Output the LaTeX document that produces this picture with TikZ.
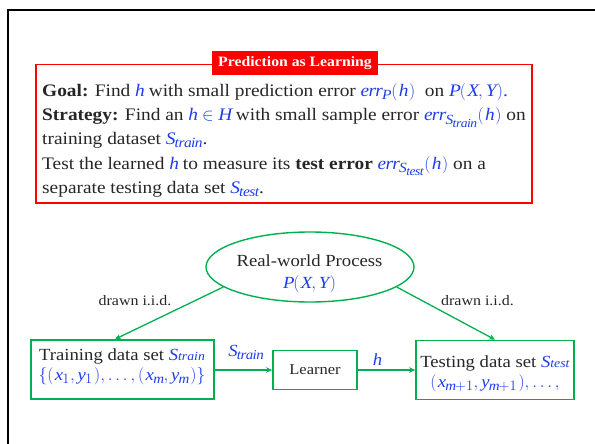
\documentclass[tikz,border=0pt]{standalone}
\usepackage{fontspec}
\setmainfont[FakeStretch=1.1]{Liberation Serif}
\usetikzlibrary{shapes.geometric,arrows.meta}
\def\defaultscriptratio{.8}
\def\defaultscriptscriptratio{.7}
\definecolor{frameRed}{RGB}{255,0,0}
\definecolor{flowGreen}{RGB}{0,176,80}
\definecolor{mathBlue}{RGB}{30,60,235}
\definecolor{bodyText}{RGB}{38,38,38}
\newcommand{\bl}[1]{\textcolor{mathBlue}{#1}}
\newcommand{\mi}[1]{\mathit{#1}}
% math parentheses with a little more room
\newcommand{\lp}{\mathopen{(}\mkern1.5mu}
\newcommand{\rp}{\mkern1.5mu\mathclose{)}}
\tikzset{
  line/.style={text=bodyText, anchor=base west, inner sep=0pt, font=\fontsize{17.6}{20}\selectfont},
  ctext/.style={text=bodyText, anchor=base, inner sep=0pt, font=\fontsize{17}{20}\selectfont},
  small/.style={text=bodyText, inner sep=0pt, font=\fontsize{15}{17}\selectfont},
  greenbox/.style={draw=flowGreen, line width=1.6pt, inner sep=0pt},
  flow/.style={draw=flowGreen, line width=1.3pt, -{Stealth[length=6pt,width=5.5pt]}},
}
\begin{document}
\begin{tikzpicture}[x=1pt,y=-1pt]
\useasboundingbox (0,0) rectangle (595,444);
% page frame (top and left edges)
\draw[line width=2.6pt, black] (7.8,450) -- (7.8,10) -- (600,10);

% red framed statement
\draw[frameRed, line width=1.4pt] (36,64.5) rectangle (532,203);
\node[fill=frameRed, text=white, font=\bfseries\fontsize{14.3}{17}\selectfont,
      minimum width=166pt, minimum height=24pt, inner sep=0pt] (title) at (295,63) {Prediction as Learning};

\node[line] (l1) at (42,96) {\textbf{Goal:} Find \bl{$\mi{h}$} with small prediction error \bl{$\mi{err}_{\mi{P}}\lp\mi{h}\rp$}\ \ on \bl{$\mi{P}\lp\mi{X},\mi{Y}\rp$.}};
\node[line] (l2) at (42,121) {\textbf{Strategy:} Find an \bl{$\mi{h}\in \mi{H}$} with small sample error \bl{$\mi{err}_{\mi{S}_{\mi{train}}}\lp\mi{h}\rp$} on};
\node[line] (l3) at (42,144) {training dataset \bl{$\mi{S}_{\mi{train}}$}.};
\node[line] (l4) at (42,169.5) {Test the learned \bl{$\mi{h}$} to measure its \textbf{test error} \bl{$\mi{err}_{\mi{S}_{\mi{test}}}\lp\mi{h}\rp$} on a};
\node[line] (l5) at (42,193.5) {separate testing data set \bl{$\mi{S}_{\mi{test}}$}.};

% real-world process
\node[draw=flowGreen, line width=1.4pt, ellipse, minimum width=208pt, minimum height=70pt, inner sep=0pt] (proc) at (310,267) {};
\node[ctext] (procA) at (309.5,266) {Real-world Process};
\node[ctext] (procB) at (309.5,288) {\bl{$\mi{P}\lp\mi{X},\mi{Y}\rp$}};

% training set
\node[greenbox, minimum width=183pt, minimum height=59pt] (train) at (122.5,369.5) {};
\node[ctext] (trainA) at (122,360) {Training data set \bl{\textit{S}{\fontsize{12.5}{14}\selectfont\textit{train}}}};
\node[ctext] (trainB) at (122,380.5) {\bl{$\{\lp\mi{x}_1,\mi{y}_1\rp,\ldots,\lp\mi{x}_{\mi{m}},\mi{y}_{\mi{m}}\rp\}$}};

% learner
\node[greenbox, minimum width=84pt, minimum height=39pt, small] (learn) at (315,370) {Learner};

% testing set
\node[greenbox, minimum width=158pt, minimum height=59pt] (test) at (495,370) {};
\node[ctext] (testA) at (495,367) {Testing data set \bl{\textit{S}{\fontsize{12.5}{14}\selectfont\textit{test}}}};
\node[ctext] (testB) at (495,387.5) {\bl{$\lp\mi{x}_{\mi{m}+1},\mi{y}_{\mi{m}+1}\rp,\ldots,$}};

% connectors
\draw[flow] (proc.193) -- (train.north -| 115,0);
\draw[flow] (proc.347) -- (test.north);
\draw[flow] (train.east |- learn.west) -- (learn.west);
\draw[flow] (learn.east) -- (test.west |- learn.east);

\node[small, anchor=base, font=\fontsize{14.5}{17}\selectfont] (d1) at (135,305) {drawn i.i.d.};
\node[small, anchor=base, font=\fontsize{14.5}{17}\selectfont] (d2) at (477.5,305) {drawn i.i.d.};
\node[ctext] (st) at (246,356) {\bl{$\mi{S}_{\mi{train}}$}};
\node[ctext] (hl) at (377,365) {\bl{$\mi{h}$}};
\end{tikzpicture}
\end{document}
